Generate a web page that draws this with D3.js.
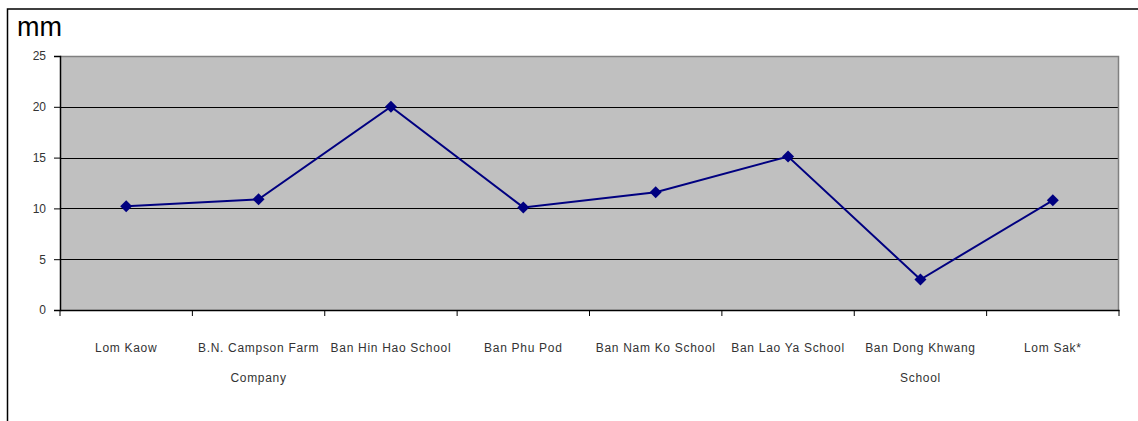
<!DOCTYPE html>
<html>
<head>
<meta charset="utf-8">
<script src="https://cdn.jsdelivr.net/npm/d3@7"></script>
<style>
  body { margin: 0; background: #fff; }
  svg { display: block; font-family: "Liberation Sans", Arial, sans-serif; }
</style>
</head>
<body>
<svg id="chart" width="1138" height="421"></svg>
<script>
// Rainfall per station (mm)
const categories = [
  ["Lom Kaow"],
  ["B.N. Campson Farm", "Company"],
  ["Ban Hin Hao School"],
  ["Ban Phu Pod"],
  ["Ban Nam Ko School"],
  ["Ban Lao Ya School"],
  ["Ban Dong Khwang", "School"],
  ["Lom Sak*"]
];
const values = [10.2, 10.9, 20.0, 10.1, 11.6, 15.1, 3.0, 10.8];
const yTicks = [0, 5, 10, 15, 20, 25];

const svg = d3.select('#chart');
const plot = { left: 60, top: 56, right: 1119, bottom: 310 };

// outer frame (cut off at right/bottom)
svg.append('rect')
    .attr('x', 7.5).attr('y', 9)
    .attr('width', 1200).attr('height', 500)
    .attr('fill', 'none')
    .attr('stroke', '#000')
    .attr('stroke-width', 1.5);

svg.append('text')
    .attr('x', 17).attr('y', 36)
    .attr('font-size', 27)
    .attr('fill', '#000')
    .text('mm');

const x = d3.scaleBand()
    .domain(d3.range(categories.length))
    .range([plot.left, plot.right]);

const y = d3.scaleLinear()
    .domain([0, 25])
    .range([plot.bottom, plot.top]);

// plot background
svg.append('rect')
    .attr('x', plot.left).attr('y', plot.top)
    .attr('width', plot.right - plot.left)
    .attr('height', plot.bottom - plot.top)
    .attr('fill', '#c0c0c0');

// gridlines
svg.append('g')
    .selectAll('line')
    .data(yTicks.filter(d => d > 0 && d < 25))
    .enter().append('line')
    .attr('x1', plot.left).attr('x2', plot.right)
    .attr('y1', d => Math.round(y(d)) + 0.5)
    .attr('y2', d => Math.round(y(d)) + 0.5)
    .attr('stroke', '#000')
    .attr('stroke-width', 1);

// plot border top/right
svg.append('path')
    .attr('d', `M${plot.left},${plot.top + 0.5}H${plot.right - 0.5}V${plot.bottom}`)
    .attr('fill', 'none')
    .attr('stroke', '#808080')
    .attr('stroke-width', 1.5);

// y axis
const yAxis = svg.append('g')
    .attr('transform', `translate(${plot.left},0)`)
    .call(d3.axisLeft(y).tickValues(yTicks).tickSize(6).tickPadding(8));
yAxis.select('.domain').attr('stroke', '#000').attr('stroke-width', 1.5);
yAxis.selectAll('.tick line').attr('stroke', '#000');
yAxis.selectAll('.tick text')
    .attr('font-size', 12)
    .attr('font-family', '"Liberation Sans", Arial, sans-serif')
    .attr('fill', '#333');

// x axis
const xAxis = svg.append('g')
    .attr('transform', `translate(0,${plot.bottom})`)
    .call(d3.axisBottom(x).tickSize(0).tickFormat(''));
xAxis.select('.domain').attr('stroke', '#000').attr('stroke-width', 1.5);

// category boundary ticks
svg.append('g')
    .selectAll('line')
    .data(d3.range(categories.length + 1))
    .enter().append('line')
    .attr('x1', d => x.step() * d + plot.left)
    .attr('x2', d => x.step() * d + plot.left)
    .attr('y1', plot.bottom)
    .attr('y2', plot.bottom + 6)
    .attr('stroke', '#000')
    .attr('stroke-width', 1);

// category labels
const labels = svg.append('g')
    .selectAll('text')
    .data(categories)
    .enter().append('text')
    .attr('x', (d, i) => x(i) + x.bandwidth() / 2)
    .attr('y', 352)
    .attr('text-anchor', 'middle')
    .attr('font-size', 12)
    .attr('letter-spacing', 0.7)
    .attr('fill', '#333');
labels.each(function(d, i) {
    const t = d3.select(this);
    d.forEach((line, k) => {
        t.append('tspan')
            .attr('x', x(i) + x.bandwidth() / 2)
            .attr('dy', k === 0 ? 0 : 30)
            .text(line);
    });
});

// series line
const line = d3.line()
    .x((d, i) => x(i) + x.bandwidth() / 2)
    .y(d => y(d));

svg.append('path')
    .datum(values)
    .attr('d', line)
    .attr('fill', 'none')
    .attr('stroke', '#000080')
    .attr('stroke-width', 2);

// diamond markers
svg.append('g')
    .selectAll('path')
    .data(values)
    .enter().append('path')
    .attr('d', d3.symbol().type(d3.symbolSquare).size(72))
    .attr('transform', (d, i) => `translate(${x(i) + x.bandwidth() / 2},${y(d)}) rotate(45)`)
    .attr('fill', '#000080');
</script>
</body>
</html>
